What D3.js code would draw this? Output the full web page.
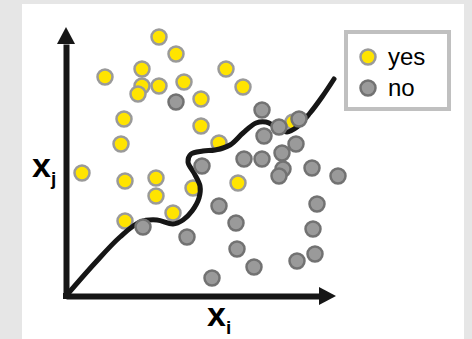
<!DOCTYPE html>
<html>
<head>
<meta charset="utf-8">
<script src="https://cdn.jsdelivr.net/npm/d3@7/dist/d3.min.js"></script>
<style>
  html, body { margin: 0; padding: 0; background: #e6e6e6; }
  svg { display: block; }
</style>
</head>
<body>
<script>
// ---- data (feature units: origin at 0,0) ----
const yesX = [93, 110, 39, 76, 76, 72, 93, 118, 160, 135, 58, 55, 135, 153, 177, 16, 59, 90, 90, 127, 172, 59, 107, 227];
const yesY = [259, 242, 219, 227, 210, 202, 210, 214, 227, 197, 177, 152, 170, 153, 209, 123, 115, 118, 100, 108, 113, 75, 83, 174];

const noX = [110, 196, 233, 213, 198, 230, 216, 178, 196, 136, 217, 213, 246, 272, 153, 251, 170, 247, 77, 121, 171, 249, 231, 188, 146];
const noY = [194, 186, 177, 169, 160, 152, 143, 137, 137, 130, 127, 120, 128, 120, 90, 92, 73, 67, 69, 59, 47, 42, 35, 29, 18];

const boundaryX = [0, 29, 54, 74, 91, 107, 117, 126, 133, 134, 128, 122, 125, 137, 149, 164, 177, 190, 200, 210, 221, 231, 244, 256, 268];
const boundaryY = [0, 33, 59, 74, 76, 72, 76, 85, 98, 110, 123, 134, 142, 145, 146, 151, 163, 173, 174, 169, 164, 169, 183, 199, 217];

const legendLabels = ["yes", "no"];
const axisLabelX = ["x", "i"];
const axisLabelY = ["x", "j"];

// ---- setup ----
const W = 472, H = 339;
const svg = d3.select("body").append("svg").attr("width", W).attr("height", H);

svg.append("rect").attr("x", 0).attr("y", 0).attr("width", W).attr("height", H).attr("fill", "#e6e6e6");
svg.append("rect").attr("x", 22).attr("y", 4).attr("width", 442).attr("height", H - 4).attr("fill", "#ffffff");

const x = d3.scaleLinear().domain([0, 253]).range([66, 319]);
const y = d3.scaleLinear().domain([0, 252]).range([296, 44]);

const ink = "#161616";

// axes (no ticks), styled as thick lines
const gx = svg.append("g").attr("transform", `translate(0,${y(0)})`)
  .call(d3.axisBottom(x).tickValues([]).tickSizeOuter(0));
const gy = svg.append("g").attr("transform", `translate(${x(0)},0)`)
  .call(d3.axisLeft(y).tickValues([]).tickSizeOuter(0));
[gx, gy].forEach(g => g.select(".domain").attr("stroke", ink).attr("stroke-width", 6));
// extend domain lines to meet at origin corner
svg.append("rect").attr("x", x(0) - 3).attr("y", y(0) - 3).attr("width", 6).attr("height", 6).attr("fill", ink);

// arrowheads
svg.append("path")
  .attr("d", `M${x(253)},${y(0) - 9} L${x(253) + 17},${y(0)} L${x(253)},${y(0) + 9} Z`)
  .attr("fill", ink);
svg.append("path")
  .attr("d", `M${x(0) - 9},${y(252)} L${x(0)},${y(252) - 17} L${x(0) + 9},${y(252)} Z`)
  .attr("fill", ink);

const R = 7.5;
// yes points
svg.append("g").selectAll("circle").data(d3.range(yesX.length)).join("circle")
  .attr("cx", i => x(yesX[i])).attr("cy", i => y(yesY[i])).attr("r", R)
  .attr("fill", "#ffe400").attr("stroke", "#9a9a9a").attr("stroke-width", 2.5);

// decision boundary
const line = d3.line().x(i => x(boundaryX[i])).y(i => y(boundaryY[i])).curve(d3.curveCatmullRom.alpha(0.5));
svg.append("path").attr("d", line(d3.range(boundaryX.length)))
  .attr("fill", "none").attr("stroke", ink).attr("stroke-width", 5).attr("stroke-linecap", "round");

// no points
svg.append("g").selectAll("circle").data(d3.range(noX.length)).join("circle")
  .attr("cx", i => x(noX[i])).attr("cy", i => y(noY[i])).attr("r", R)
  .attr("fill", "#9a9a9a").attr("stroke", "#727272").attr("stroke-width", 2.5);

// axis labels
const fam = "'Liberation Sans', Arial, Helvetica, sans-serif";
const ly = svg.append("text").attr("x", 32).attr("y", 177).attr("font-family", fam).attr("font-weight", "bold").attr("fill", "#000");
ly.append("tspan").attr("font-size", 34).text(axisLabelY[0]);
ly.append("tspan").attr("font-size", 19).attr("dy", 8).text(axisLabelY[1]);

const lx = svg.append("text").attr("x", 207).attr("y", 326).attr("font-family", fam).attr("font-weight", "bold").attr("fill", "#000");
lx.append("tspan").attr("font-size", 34).text(axisLabelX[0]);
lx.append("tspan").attr("font-size", 19).attr("dy", 8).text(axisLabelX[1]);

// legend
const lg = svg.append("g");
lg.append("rect").attr("x", 346).attr("y", 32).attr("width", 103).attr("height", 77)
  .attr("fill", "#fff").attr("stroke", "#c0c0c0").attr("stroke-width", 4);
const legendFill = ["#ffe400", "#9a9a9a"], legendStroke = ["#9a9a9a", "#727272"];
legendLabels.forEach((lab, i) => {
  lg.append("circle").attr("cx", 368).attr("cy", 57 + i * 31).attr("r", R)
    .attr("fill", legendFill[i]).attr("stroke", legendStroke[i]).attr("stroke-width", 2.5);
  lg.append("text").attr("x", 388).attr("y", 65 + i * 31).attr("font-family", fam)
    .attr("font-size", 24).attr("fill", "#000").text(lab);
});
</script>
</body>
</html>
